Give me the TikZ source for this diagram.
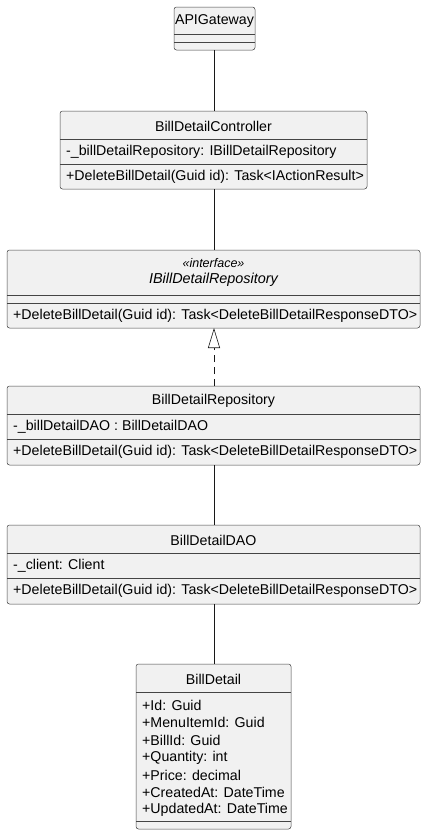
\documentclass[tikz,border=0pt]{standalone}
\usepackage{fontspec}
\setmainfont{Liberation Sans}
\usetikzlibrary{arrows.meta}
\definecolor{boxfill}{HTML}{F1F1F1}
\definecolor{boxline}{HTML}{444444}
\definecolor{linkcol}{HTML}{181818}
\definecolor{textcol}{HTML}{000000}
\tikzset{
  classbox/.style={draw=boxline, fill=boxfill, rounded corners=2.5pt, line width=0.5pt, inner sep=0pt, outer sep=0pt},
  classname/.style={font=\fontsize{14.2}{16}\selectfont, text=textcol, inner sep=0pt},
  stereo/.style={font=\fontsize{12.5}{14}\selectfont\itshape, text=textcol, inner sep=0pt},
  member/.style={font=\fontsize{14.2}{16}\selectfont, text=textcol, anchor=west, inner sep=0pt},
  sepline/.style={draw=boxline, line width=0.5pt},
  link/.style={draw=linkcol, line width=0.6pt},
}
% class box from its left, top, right and bottom edges
\newcommand\umlbox[5]{%
  \node[classbox, minimum width={(#4-#2)*1pt}, minimum height={(#5-#3)*1pt}]
    (#1) at ({(#2+#4)/2},{(#3+#5)/2}) {};}
% horizontal compartment divider inside a box
\newcommand\umlsep[2]{\draw[sepline] (#1.west |- 0,#2) -- (#1.east |- 0,#2);}
\begin{document}
\begin{tikzpicture}[x=1pt,y=-1pt]
\fill[white] (0,0) rectangle (427,836);
\useasboundingbox (0,0) rectangle (427,836);

% APIGateway
\umlbox{gw}{174}{7}{255}{50}
\node[classname] (gw-name) at (214.5,21) {APIGateway};
\umlsep{gw}{34}
\umlsep{gw}{42}

% BillDetailController
\umlbox{ctrl}{60}{111}{367}{189}
\node[classname] (ctrl-name) at (213.5,126) {BillDetailController};
\umlsep{ctrl}{139}
\node[member] (ctrl-a1) at (66,152) {-\_billDetailRepository: IBillDetailRepository};
\umlsep{ctrl}{164}
\node[member] (ctrl-m1) at (66,177) {+DeleteBillDetail(Guid id): Task<IActionResult>};

% IBillDetailRepository
\umlbox{irepo}{7}{250}{420}{328}
\node[stereo] (irepo-st) at (213.5,263) {«interface»};
\node[classname, font=\fontsize{14.4}{16}\selectfont\itshape] (irepo-name) at (213.5,280) {IBillDetailRepository};
\umlsep{irepo}{295}
\umlsep{irepo}{303}
\node[member] (irepo-m1) at (13,315.5) {+DeleteBillDetail(Guid id): Task<DeleteBillDetailResponseDTO>};

% BillDetailRepository
\umlbox{repo}{7}{386}{420}{465}
\node[classname] (repo-name) at (213.5,401) {BillDetailRepository};
\umlsep{repo}{414}
\node[member] (repo-a1) at (13,426.5) {-\_billDetailDAO : BillDetailDAO};
\umlsep{repo}{439}
\node[member] (repo-m1) at (13,452) {+DeleteBillDetail(Guid id): Task<DeleteBillDetailResponseDTO>};

% BillDetailDAO
\umlbox{dao}{7}{525}{420}{604}
\node[classname] (dao-name) at (213.5,540) {BillDetailDAO};
\umlsep{dao}{553}
\node[member] (dao-a1) at (13,565.5) {-\_client: Client};
\umlsep{dao}{578}
\node[member] (dao-m1) at (13,591) {+DeleteBillDetail(Guid id): Task<DeleteBillDetailResponseDTO>};

% BillDetail
\umlbox{bd}{136}{664}{291}{829}
\node[classname] (bd-name) at (213.5,679) {BillDetail};
\umlsep{bd}{692}
\node[member] (bd-a1) at (142,705) {+Id: Guid};
\node[member] (bd-a2) at (142,722.5) {+MenuItemId: Guid};
\node[member] (bd-a3) at (142,740) {+BillId: Guid};
\node[member] (bd-a4) at (142,757.5) {+Quantity: int};
\node[member] (bd-a5) at (142,775) {+Price: decimal};
\node[member] (bd-a6) at (142,792.5) {+CreatedAt: DateTime};
\node[member] (bd-a7) at (142,810) {+UpdatedAt: DateTime};
\umlsep{bd}{821}

% connectors
\draw[link] (gw.south -| 214,0) -- (ctrl.north -| 214,0);
\draw[link] (ctrl.south -| 214,0) -- (irepo.north -| 214,0);
\draw[link, dash pattern=on 7pt off 5pt, -{Triangle[open, length=20pt, width=12pt, line width=0.6pt]}]
  (repo.north -| 214,0) -- (irepo.south -| 214,0);
\draw[link] (repo.south -| 214,0) -- (dao.north -| 214,0);
\draw[link] (dao.south -| 214,0) -- (bd.north -| 214,0);
\end{tikzpicture}
\end{document}
